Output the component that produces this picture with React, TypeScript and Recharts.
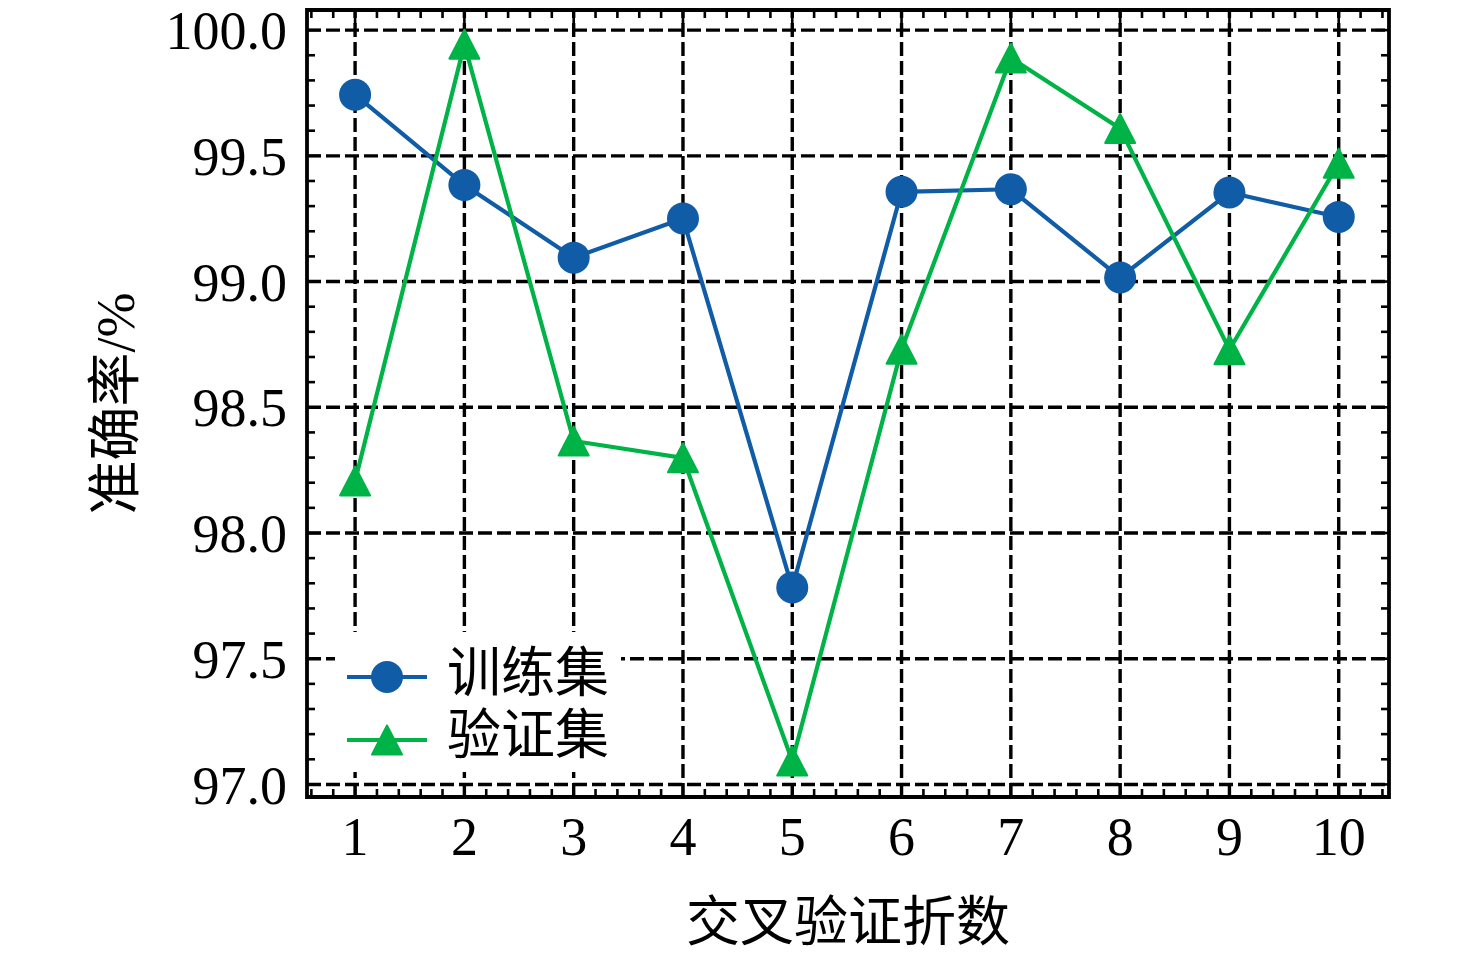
import React from 'react';
import {
  LineChart,
  Line,
  XAxis,
  YAxis,
  ReferenceLine,
  ReferenceArea,
} from 'recharts';

const folds = [1, 2, 3, 4, 5, 6, 7, 8, 9, 10];
const trainAcc = [99.743, 99.384, 99.095, 99.251, 97.783, 99.357, 99.367, 99.016, 99.354, 99.257];
const valAcc = [98.207, 99.944, 98.366, 98.299, 97.093, 98.731, 99.889, 99.609, 98.729, 99.471];
const xTicks = [1, 2, 3, 4, 5, 6, 7, 8, 9, 10];
const yTicks = [97.0, 97.5, 98.0, 98.5, 99.0, 99.5, 100.0];
const seriesNames = ['训练集', '验证集'];

const X_DOMAIN: [number, number] = [0.56, 10.46];
const Y_DOMAIN: [number, number] = [96.95, 100.08];

const BLUE = '#105CA6';
const GREEN = '#00B347';
const FONT = "'Liberation Serif', 'Times New Roman', 'Noto Sans CJK SC', serif";

const W = 1476;
const H = 957;
const MARGIN = { top: 10, right: 87, bottom: 16, left: 77 };
const Y_AXIS_W = 230;
const X_AXIS_H = 144;
const PLOT_W = W - MARGIN.left - MARGIN.right - Y_AXIS_W;
const PLOT_H = H - MARGIN.top - MARGIN.bottom - X_AXIS_H;
const PX_PER_X = PLOT_W / (X_DOMAIN[1] - X_DOMAIN[0]);
const PX_PER_Y = PLOT_H / (Y_DOMAIN[1] - Y_DOMAIN[0]);

const rows = folds.map((f, i) => ({ fold: f, train: trainAcc[i], val: valAcc[i] }));

// minor tick positions (axis decoration)
const xMinor: number[] = [];
for (let i = 3; i <= 52; i++) xMinor.push(Math.round(i * 20) / 100);
const yMinor: number[] = [];
for (let i = 970; i <= 1000; i++) yMinor.push(i / 10);

const MINOR_LEN = 8;
const MAJOR_LEN = 14;
const LINE_W = 4.2;
const GRID_W = 3.4;

const CircleDot = (props: any) => {
  const { cx, cy } = props;
  if (cx == null || cy == null) return null;
  return <circle cx={cx} cy={cy} r={16} fill={BLUE} />;
};

const TriangleDot = (props: any) => {
  const { cx, cy } = props;
  if (cx == null || cy == null) return null;
  const hw = 15;
  const hh = 14.5;
  return (
    <polygon
      points={`${cx},${cy - hh} ${cx - hw},${cy + hh} ${cx + hw},${cy + hh}`}
      fill={GREEN}
      stroke={GREEN}
      strokeWidth={2}
      strokeLinejoin="round"
    />
  );
};

const tickStyle = { fontSize: 54, fill: '#000', fontFamily: FONT };

export default function App() {
  const gridLines: React.ReactNode[] = [];
  yTicks.forEach((y) => {
    gridLines.push(
      <ReferenceLine key={`gy${y}`} y={y} stroke="#000" strokeWidth={GRID_W} strokeDasharray="14 5" ifOverflow="visible" />
    );
  });
  xTicks.forEach((x) => {
    gridLines.push(
      <ReferenceLine key={`gx${x}`} x={x} stroke="#000" strokeWidth={GRID_W} strokeDasharray="14 5" ifOverflow="visible" />
    );
  });

  const tickLines: React.ReactNode[] = [];
  xMinor.forEach((x, i) => {
    const major = Math.abs(x - Math.round(x)) < 1e-6;
    const len = (major ? MAJOR_LEN : MINOR_LEN) / PX_PER_Y;
    tickLines.push(
      <ReferenceLine
        key={`xb${i}`}
        segment={[{ x, y: Y_DOMAIN[0] }, { x, y: Y_DOMAIN[0] + len }]}
        stroke="#000"
        strokeWidth={2.6}
        ifOverflow="visible"
      />,
      <ReferenceLine
        key={`xt${i}`}
        segment={[{ x, y: Y_DOMAIN[1] }, { x, y: Y_DOMAIN[1] - len }]}
        stroke="#000"
        strokeWidth={2.6}
        ifOverflow="visible"
      />
    );
  });
  yMinor.forEach((y, i) => {
    const major = Math.abs(y * 2 - Math.round(y * 2)) < 1e-6;
    const len = (major ? MAJOR_LEN : MINOR_LEN) / PX_PER_X;
    tickLines.push(
      <ReferenceLine
        key={`yl${i}`}
        segment={[{ x: X_DOMAIN[0], y }, { x: X_DOMAIN[0] + len, y }]}
        stroke="#000"
        strokeWidth={2.6}
        ifOverflow="visible"
      />,
      <ReferenceLine
        key={`yr${i}`}
        segment={[{ x: X_DOMAIN[1], y }, { x: X_DOMAIN[1] - len, y }]}
        stroke="#000"
        strokeWidth={2.6}
        ifOverflow="visible"
      />
    );
  });

  return (
    <div style={{ position: 'relative', width: W, height: H, background: '#fff', overflow: 'hidden' }}>
      <style>{'html,body{margin:0;padding:0;overflow:hidden;}'}</style>
      <LineChart width={W} height={H} data={rows} margin={MARGIN}>
        <XAxis
          dataKey="fold"
          type="number"
          domain={X_DOMAIN}
          allowDataOverflow
          ticks={xTicks}
          interval={0}
          height={X_AXIS_H}
          axisLine={false}
          tickLine={false}
          tickSize={6}
          tickMargin={14}
          tick={tickStyle}
          label={{
            value: '交叉验证折数',
            position: 'insideBottom',
            offset: 0,
            fontSize: 54,
            fill: '#000',
            fontFamily: FONT,
          }}
        />
        <YAxis
          type="number"
          domain={Y_DOMAIN}
          allowDataOverflow
          ticks={yTicks}
          interval={0}
          width={Y_AXIS_W}
          axisLine={false}
          tickLine={false}
          tickSize={6}
          tickMargin={14}
          tick={tickStyle}
          tickFormatter={(v: number) => v.toFixed(1)}
          label={{
            value: '准确率/%',
            angle: -90,
            position: 'insideLeft',
            offset: 38,
            fontSize: 54,
            fill: '#000',
            fontFamily: FONT,
            style: { textAnchor: 'middle' },
          }}
        />
        {gridLines}
        {tickLines}
        <ReferenceArea
          x1={X_DOMAIN[0]}
          x2={X_DOMAIN[1]}
          y1={Y_DOMAIN[0]}
          y2={Y_DOMAIN[1]}
          fill="none"
          fillOpacity={0}
          stroke="#000"
          strokeWidth={3.8}
          ifOverflow="visible"
        />
        <Line
          type="linear"
          dataKey="train"
          name={seriesNames[0]}
          stroke={BLUE}
          strokeWidth={LINE_W}
          dot={<CircleDot />}
          activeDot={false}
          isAnimationActive={false}
        />
        <Line
          type="linear"
          dataKey="val"
          name={seriesNames[1]}
          stroke={GREEN}
          strokeWidth={LINE_W}
          dot={<TriangleDot />}
          activeDot={false}
          isAnimationActive={false}
        />
      </LineChart>
      <div
        style={{
          position: 'absolute',
          left: 335,
          top: 632,
          width: 286,
          height: 140,
          background: '#fff',
        }}
      >
        <svg width={286} height={140} style={{ display: 'block' }}>
          <line x1={12} y1={45} x2={92} y2={45} stroke={BLUE} strokeWidth={LINE_W} />
          <circle cx={52} cy={45} r={16} fill={BLUE} />
          <line x1={12} y1={108} x2={92} y2={108} stroke={GREEN} strokeWidth={LINE_W} />
          <polygon
            points={`52,${108 - 14.5} 37,${108 + 14.5} 67,${108 + 14.5}`}
            fill={GREEN}
            stroke={GREEN}
            strokeWidth={2}
            strokeLinejoin="round"
          />
          <text x={112} y={42} dominantBaseline="central" fontSize={54} fontFamily={FONT} fill="#000">
            {seriesNames[0]}
          </text>
          <text x={112} y={104} dominantBaseline="central" fontSize={54} fontFamily={FONT} fill="#000">
            {seriesNames[1]}
          </text>
        </svg>
      </div>
    </div>
  );
}
